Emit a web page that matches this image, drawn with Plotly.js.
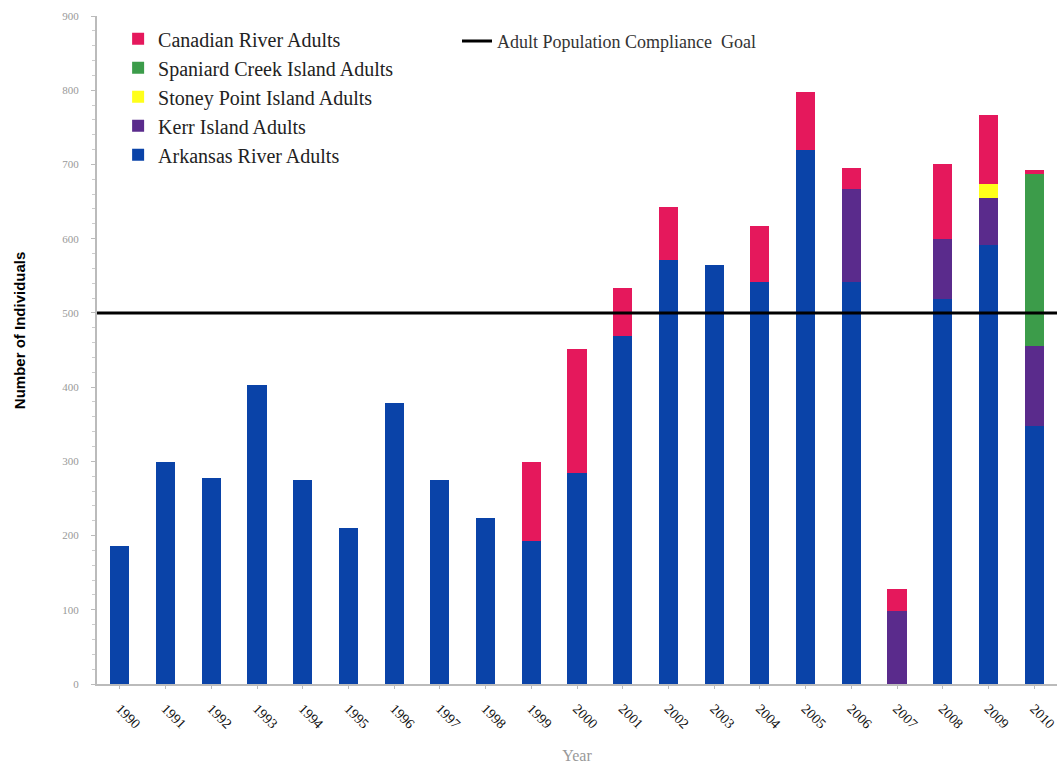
<!DOCTYPE html>
<html>
<head>
<meta charset="utf-8">
<script src="https://cdn.plot.ly/plotly-3.0.1.min.js"></script>
<style>html,body{margin:0;padding:0;background:#fff;}#chart{width:1062px;height:764px;}</style>
</head>
<body>
<div id="chart"></div>
<script>
const years = [1990,1991,1992,1993,1994,1995,1996,1997,1998,1999,2000,2001,2002,2003,2004,2005,2006,2007,2008,2009,2010];
const arkansas = [186,299,277,403,275,210,378,275,224,193,284,469,571,564,542,720,541,0,519,591,347];
const kerr     = [0,0,0,0,0,0,0,0,0,0,0,0,0,0,0,0,126,99,80,64,108];
const stoney   = [0,0,0,0,0,0,0,0,0,0,0,0,0,0,0,0,0,0,0,19,0];
const spaniard = [0,0,0,0,0,0,0,0,0,0,0,0,0,0,0,0,0,0,0,0,232];
const canadian = [0,0,0,0,0,0,0,0,0,106,168,65,71,0,75,78,28,29,101,92,5];
const goalX = [1989.35, 2010.6];
const goalY = [500, 500];
const yTicks = [0,100,200,300,400,500,600,700,800,900];

const serif = "Liberation Serif, Times New Roman, serif";
function bar(name, y, color){
  return {type:'bar', name:name, x:years, y:y, marker:{color:color, line:{width:0}}, legend:'legend'};
}
const traces = [
  bar('Arkansas River Adults', arkansas, '#0a43a8'),
  bar('Kerr Island Adults', kerr, '#5a2b8c'),
  bar('Stoney Point Island Adults', stoney, '#ffff1a'),
  bar('Spaniard Creek Island Adults', spaniard, '#3c9c4a'),
  bar('Canadian River Adults', canadian, '#e5185c'),
  {type:'scatter', mode:'lines', name:'Adult Population Compliance  Goal', x:goalX, y:goalY,
   line:{color:'#000', width:3}, legend:'legend2', cliponaxis:false}
];
const layout = {
  width:1062, height:764,
  margin:{l:97, r:5, t:16, b:80},
  paper_bgcolor:'#fff', plot_bgcolor:'#fff',
  barmode:'stack', bargap:0.58,
  showlegend:true,
  xaxis:{
    range:[1989.5, 2010.5], tickmode:'array', tickvals:years, ticktext:years.map(String),
    tickangle:45, tickfont:{family:serif, size:14, color:'#111'},
    showline:true, linecolor:'#bbb', linewidth:2, ticks:'outside', ticklen:3, tickcolor:'#bbb',
    showgrid:false, zeroline:false, ticklabelstandoff:6,
    title:{text:'Year', font:{family:serif, size:16, color:'#999'}, standoff:20}
  },
  yaxis:{
    range:[0, 900], tickmode:'array', tickvals:yTicks, ticktext:yTicks.map(String),
    tickfont:{family:serif, size:11, color:'#999'}, ticklabelstandoff:10,
    showline:true, linecolor:'#bbb', linewidth:2, ticks:'outside', ticklen:4, tickcolor:'#bbb',
    minor:{dtick:20, ticks:'outside', ticklen:3, tickcolor:'#ccc'},
    showgrid:false, zeroline:false
  },
  annotations:[{
    text:'Number of Individuals', xref:'paper', yref:'paper', textangle:-90,
    x:-0.08, y:0.53, xanchor:'center', yanchor:'middle', showarrow:false,
    font:{family:'Liberation Sans Narrow, Liberation Sans, Arial, sans-serif', size:15, color:'#000', weight:'bold'}
  }],
  legend:{x:0.022, y:0.995, xanchor:'left', yanchor:'top', traceorder:'reversed',
    font:{family:serif, size:20, color:'#222'}, bgcolor:'rgba(0,0,0,0)', tracegroupgap:0, itemwidth:30},
  legend2:{x:0.375, y:0.99, xanchor:'left', yanchor:'top',
    font:{family:serif, size:18, color:'#333'}, bgcolor:'rgba(0,0,0,0)'}
};
Plotly.newPlot('chart', traces, layout, {displayModeBar:false, staticPlot:true});
</script>
</body>
</html>
